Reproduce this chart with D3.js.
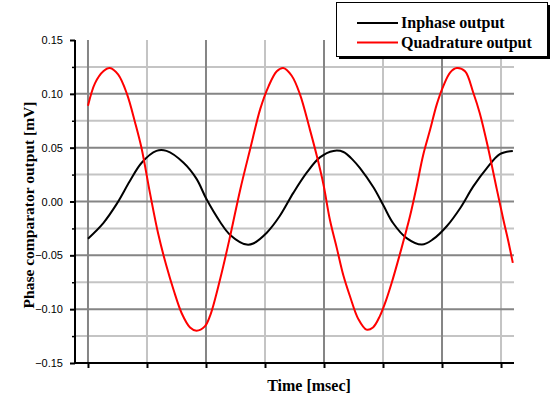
<!DOCTYPE html>
<html>
<head>
<meta charset="utf-8">
<script src="https://cdn.jsdelivr.net/npm/d3@7"></script>
<style>
  body { margin: 0; background: #fff; }
  .tickLabel { font-family: "Liberation Sans", Arial, sans-serif; font-size: 11px; }
  .title { font-family: "Liberation Serif", "Times New Roman", serif; font-weight: bold; font-size: 16px; }
</style>
</head>
<body>
<div id="chart"></div>
<script>
// Data
// ===========================
// time in tick units (one tick = one x division), output in mV
var inphaseTime = [0.00, 0.26, 0.49, 0.71, 0.91, 1.16, 1.33, 1.62, 1.84, 2.01, 2.24, 2.41, 2.69, 2.80,
  3.03, 3.25, 3.48, 3.71, 3.93, 4.16, 4.33, 4.50, 4.61, 4.84, 5.01, 5.17, 5.40, 5.66, 5.85, 6.08,
  6.31, 6.53, 6.76, 6.98, 7.20];
var inphaseValues = [-0.0345, -0.020, -0.002, 0.019, 0.036, 0.047, 0.047, 0.036, 0.021, 0.002, -0.019,
  -0.031, -0.040, -0.039, -0.029, -0.0135, 0.008, 0.027, 0.041, 0.047, 0.046, 0.038, 0.031, 0.013,
  -0.004, -0.020, -0.034, -0.040, -0.035, -0.023, -0.006, 0.014, 0.031, 0.044, 0.047];

var quadTime = [0.00, 0.12, 0.26, 0.37, 0.51, 0.66, 0.80, 0.91, 1.05, 1.19, 1.33, 1.45, 1.59, 1.73,
  1.84, 1.98, 2.07, 2.24, 2.41, 2.58, 2.75, 2.92, 3.06, 3.20, 3.31, 3.45, 3.59, 3.76, 3.88, 3.99,
  4.10, 4.22, 4.33, 4.44, 4.58, 4.72, 4.83, 4.95, 5.05, 5.15, 5.26, 5.36, 5.46, 5.57, 5.68, 5.80,
  5.91, 6.02, 6.14, 6.25, 6.39, 6.53, 6.64, 6.78, 6.93, 7.04, 7.12, 7.20];
var quadValues = [0.089, 0.110, 0.121, 0.124, 0.118, 0.100, 0.073, 0.049, 0.008, -0.030, -0.060, -0.082,
  -0.104, -0.117, -0.120, -0.116, -0.106, -0.072, -0.032, 0.011, 0.049, 0.086, 0.107, 0.121, 0.124,
  0.117, 0.100, 0.067, 0.042, 0.016, -0.017, -0.044, -0.069, -0.088, -0.109, -0.119, -0.117, -0.106,
  -0.092, -0.075, -0.054, -0.034, -0.013, 0.014, 0.043, 0.067, 0.090, 0.107, 0.120, 0.124, 0.121,
  0.101, 0.082, 0.050, 0.011, -0.017, -0.036, -0.057];

var yMajorTicks = [-0.15, -0.10, -0.05, 0.00, 0.05, 0.10, 0.15];
var yMinorTicks = [-0.125, -0.075, -0.025, 0.025, 0.075, 0.125];
var xMajorTicks = [0, 2, 4, 6];
var xMinorTicks = [1, 3, 5, 7];

var seriesNames = ["Inphase output", "Quadrature output"];
var seriesColors = ["#000000", "#ff0000"];

// Canvas
// ===========================
var width = 553;
var height = 396;

var svg = d3.select("#chart")
  .append("svg")
  .attr("width", width)
  .attr("height", height);

// Scales
var xScale = d3.scaleLinear().domain([-0.22, 7.22]).range([75, 514]);
var yScale = d3.scaleLinear().domain([-0.15, 0.15]).range([363, 40]);

// Grid lines
// ===========================
var grid = svg.append("g").attr("class", "grid");

// light ones first, dark ones on top
grid.selectAll("line.hMinor").data(yMinorTicks).enter()
  .append("line")
  .attr("x1", 75).attr("x2", 514)
  .attr("y1", function(d) { return yScale(d); })
  .attr("y2", function(d) { return yScale(d); })
  .attr("stroke", "#c4c4c4").attr("stroke-width", 2);

grid.selectAll("line.vMinor").data(xMinorTicks).enter()
  .append("line")
  .attr("x1", function(d) { return xScale(d); })
  .attr("x2", function(d) { return xScale(d); })
  .attr("y1", 40).attr("y2", 363)
  .attr("stroke", "#c4c4c4").attr("stroke-width", 2);

grid.selectAll("line.hMajor").data(yMajorTicks.filter(function(d) { return Math.abs(d) < 0.14; })).enter()
  .append("line")
  .attr("x1", 75).attr("x2", 514)
  .attr("y1", function(d) { return yScale(d); })
  .attr("y2", function(d) { return yScale(d); })
  .attr("stroke", "#858585").attr("stroke-width", 2);

grid.selectAll("line.vMajor").data(xMajorTicks).enter()
  .append("line")
  .attr("x1", function(d) { return xScale(d); })
  .attr("x2", function(d) { return xScale(d); })
  .attr("y1", 40).attr("y2", 363)
  .attr("stroke", "#858585").attr("stroke-width", 2);

// Curves
// ===========================
var line = d3.line()
  .x(function(d) { return xScale(d[0]); })
  .y(function(d) { return yScale(d[1]); })
  .curve(d3.curveCatmullRom.alpha(0.5));

var inphaseData = inphaseTime.map(function(t, i) { return [t, inphaseValues[i]]; });
var quadData = quadTime.map(function(t, i) { return [t, quadValues[i]]; });

svg.append("path")
  .datum(inphaseData)
  .attr("d", line)
  .attr("fill", "none")
  .attr("stroke", seriesColors[0])
  .attr("stroke-width", 2);

svg.append("path")
  .datum(quadData)
  .attr("d", line)
  .attr("fill", "none")
  .attr("stroke", seriesColors[1])
  .attr("stroke-width", 2);

// Axes
// ===========================
var yAxis = d3.axisLeft(yScale)
  .tickValues(yMajorTicks)
  .tickSize(5)
  .tickSizeOuter(0)
  .tickPadding(7)
  .tickFormat(d3.format(".2f"));

var yAxisG = svg.append("g")
  .attr("transform", "translate(75,0)")
  .call(yAxis);
yAxisG.select(".domain").attr("stroke-width", 2).attr("d", "M0,40V364");
yAxisG.selectAll(".tick line").attr("stroke-width", 2);
yAxisG.selectAll(".tick text").attr("class", "tickLabel").attr("fill", "#000");

var yMinorAxis = d3.axisLeft(yScale)
  .tickValues(yMinorTicks)
  .tickSize(3)
  .tickFormat("");
var yMinorG = svg.append("g")
  .attr("transform", "translate(75,0)")
  .call(yMinorAxis);
yMinorG.select(".domain").remove();
yMinorG.selectAll(".tick line").attr("stroke-width", 1.5);

var xAxis = d3.axisBottom(xScale)
  .tickValues(xMajorTicks.concat(xMinorTicks))
  .tickSize(5)
  .tickSizeOuter(0)
  .tickFormat("");

var xAxisG = svg.append("g")
  .attr("transform", "translate(0,363)")
  .call(xAxis);
xAxisG.select(".domain").attr("stroke-width", 2).attr("d", "M74,0H514");
xAxisG.selectAll(".tick line").attr("stroke-width", 2);

// Axis titles
svg.append("text")
  .attr("class", "title")
  .attr("x", 309)
  .attr("y", 391)
  .attr("text-anchor", "middle")
  .text("Time [msec]");

svg.append("text")
  .attr("class", "title")
  .attr("transform", "translate(34,205) rotate(-90)")
  .attr("text-anchor", "middle")
  .style("font-size", "15.5px")
  .text("Phase comparator output [mV]");

// Legend
// ===========================
var legend = svg.append("g");
legend.append("rect")
  .attr("x", 339).attr("y", 5)
  .attr("width", 211).attr("height", 54)
  .attr("fill", "#000");
legend.append("rect")
  .attr("x", 336.5).attr("y", 2.5)
  .attr("width", 211).attr("height", 54)
  .attr("fill", "#fff")
  .attr("stroke", "#000")
  .attr("stroke-width", 1);

var legendRows = legend.selectAll("g.row").data(seriesNames).enter()
  .append("g")
  .attr("transform", function(d, i) { return "translate(0," + (23 + i * 19.5) + ")"; });

legendRows.append("line")
  .attr("x1", 357).attr("x2", 398)
  .attr("y1", 0).attr("y2", 0)
  .attr("stroke", function(d, i) { return seriesColors[i]; })
  .attr("stroke-width", 2);

legendRows.append("text")
  .attr("class", "title")
  .attr("x", 401)
  .attr("y", 5)
  .text(function(d) { return d; });
</script>
</body>
</html>
